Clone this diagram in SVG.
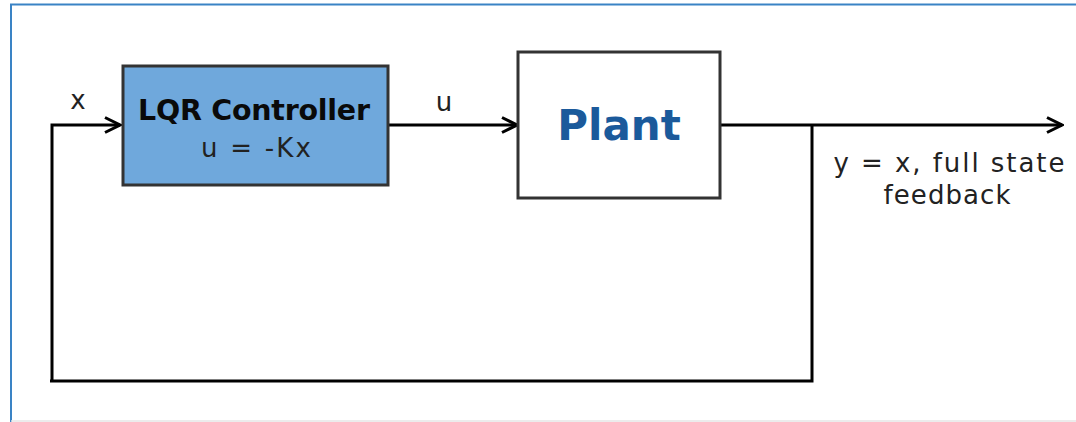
<svg xmlns="http://www.w3.org/2000/svg" width="1076" height="422" viewBox="0 0 1076 422">
<defs>
<style>
.lbl{font-family:"DejaVu Sans","Liberation Sans",sans-serif;font-size:26px;fill:#222}
.box{stroke:#333;stroke-width:3}
.wire{fill:none;stroke:#000;stroke-width:3}
</style>
<marker id="arr" markerUnits="userSpaceOnUse" viewBox="0 0 20 20" refX="18" refY="10" markerWidth="20" markerHeight="20" orient="auto">
<path d="M3,2.5 L18,10 L3,17.5" fill="none" stroke="#000" stroke-width="3" stroke-linejoin="miter"/>
</marker>
</defs>
<rect width="1076" height="422" fill="#fff"/>
<path d="M11,422 V4.5 H1076" fill="none" stroke="#3a83c5" stroke-width="2"/>
<line x1="11" y1="421" x2="1076" y2="421" stroke="#e6e6e6" stroke-width="1.5"/>
<g id="connectors">
<path class="wire" d="M52,382 V125 H120" marker-end="url(#arr)"/>
<path class="wire" d="M388,125 H517" marker-end="url(#arr)"/>
<path class="wire" d="M720,125 H1062" marker-end="url(#arr)"/>
<path class="wire" d="M812,125 V381 H50" stroke-width="3.5"/>
<text class="lbl" x="78" y="109" text-anchor="middle">x</text>
<text class="lbl" x="444" y="111" text-anchor="middle">u</text>
<text class="lbl" x="949" y="172" text-anchor="middle" textLength="231">y = x, full state</text>
<text class="lbl" x="947" y="204" text-anchor="middle" textLength="127">feedback</text>
</g>
<g id="lqr">
<rect class="box" x="123" y="66" width="265" height="119" fill="#6fa8dc"/>
<text x="254" y="120" text-anchor="middle" font-family="DejaVu Sans,Liberation Sans,sans-serif" font-weight="bold" font-size="28.5" fill="#0a0a0a" textLength="232">LQR Controller</text>
<text class="lbl" x="256" y="157" text-anchor="middle" textLength="110">u = -Kx</text>
</g>
<g id="plant">
<rect class="box" x="518" y="52" width="202" height="146" fill="#fff"/>
<text x="619" y="140" text-anchor="middle" font-family="DejaVu Sans,Liberation Sans,sans-serif" font-weight="bold" font-size="42" fill="#1b5a9b">Plant</text>
</g>
</svg>
